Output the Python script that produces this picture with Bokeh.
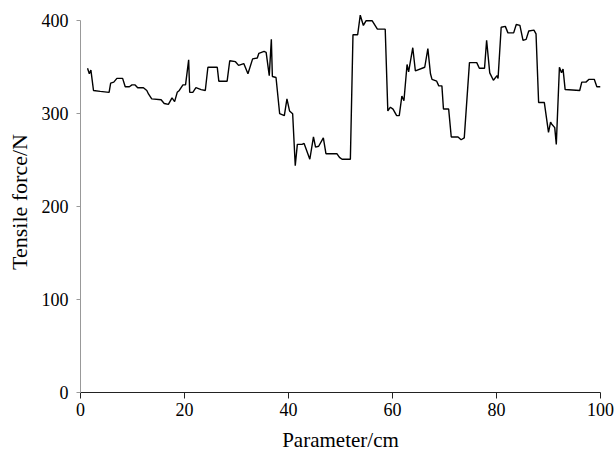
from bokeh.plotting import figure
from bokeh.models import FixedTicker, Range1d
from bokeh.embed import file_html
from bokeh.resources import INLINE

x_cm = [1.35, 1.7, 2.0, 2.5, 3.8, 5.5, 5.8, 6.4, 7.0, 8.1,
        8.6, 9.4, 9.9, 10.5, 11.0, 12.1, 12.75, 13.1, 13.7, 15.5,
        16.1, 16.9, 17.6, 18.1, 18.6, 19.0, 19.7, 20.2, 20.8, 21.0,
        21.6, 22.2, 23.2, 24.0, 24.5, 26.3, 26.6, 28.2, 28.7, 29.8,
        30.4, 31.4, 32.2, 33.1, 34.0, 34.3, 35.3, 35.7, 36.3, 36.7,
        36.9, 37.6, 38.3, 39.2, 39.7, 40.2, 40.8, 41.3, 41.7, 42.6,
        43.0, 44.1, 44.8, 45.2, 45.8, 46.7, 47.2, 49.3, 49.8, 50.3,
        51.9, 52.4, 53.3, 53.8, 54.4, 54.9, 56.1, 57.1, 58.6, 59.1,
        59.6, 60.1, 60.8, 61.3, 61.8, 62.2, 62.8, 63.1, 63.9, 64.4,
        66.2, 66.8, 67.3, 67.6, 68.5, 68.9, 69.5, 69.8, 70.8, 71.3,
        72.6, 73.2, 73.8, 74.8, 76.2, 76.7, 77.7, 78.1, 78.7, 79.4,
        80.1, 80.3, 80.9, 81.7, 82.2, 83.3, 83.8, 84.5, 85.1, 85.7,
        86.2, 87.2, 87.6, 88.1, 89.2, 90.0, 90.4, 90.6, 91.2, 91.5,
        92.1, 92.5, 92.8, 93.2, 96.0, 96.4, 97.2, 97.8, 98.8, 99.3,
        100.0]

force_n = [349, 343, 347, 325, 324, 323, 333, 334, 338, 338,
           329, 329, 331, 331, 328, 328, 325, 321, 316, 315,
           311, 310, 317, 313, 323, 325, 331, 331, 358, 323,
           323, 328, 326, 325, 350, 350, 335, 335, 357, 356,
           352, 354, 343, 359, 360, 365, 367, 366, 341, 380,
           340, 339, 300, 298, 316, 303, 300, 244, 267, 267,
           268, 251, 275, 264, 265, 274, 257, 257, 253, 251,
           251, 385, 385, 406, 395, 400, 400, 391, 391, 303,
           307, 305, 298, 298, 319, 314, 353, 345, 371, 346,
           350, 370, 343, 337, 335, 330, 330, 305, 305, 275,
           275, 272, 274, 355, 355, 349, 349, 379, 344, 336,
           341, 338, 393, 394, 387, 387, 396, 395, 379, 380,
           389, 390, 386, 312, 312, 280, 291, 289, 285, 267,
           350, 344, 348, 326, 325, 334, 334, 337, 337, 329,
           329]

x_ticks = [0, 20, 40, 60, 80, 100]
y_ticks = [0, 100, 200, 300, 400]
x_title = "Parameter/cm"
y_title = "Tensile force/N"

FONT = "Liberation Serif"

p = figure(width=615, height=460, output_backend="svg", toolbar_location=None,
           x_range=Range1d(0, 100), y_range=Range1d(0, 410),
           min_border_left=80, min_border_right=15, min_border_top=11,
           min_border_bottom=68)

p.line(x_cm, force_n, line_color="black", line_width=1.4)

p.outline_line_color = None
p.xgrid.visible = False
p.ygrid.visible = False
p.background_fill_color = "white"
p.border_fill_color = "white"

xa = p.xaxis[0]
xa.ticker = FixedTicker(ticks=x_ticks)
xa.axis_line_color = "#222222"
xa.major_tick_line_color = "#222222"
xa.major_tick_out = 6
xa.major_tick_in = 0
xa.minor_tick_line_color = None
xa.major_label_text_font = FONT
xa.major_label_text_font_size = "18px"
xa.major_label_text_color = "black"
xa.major_label_standoff = 4
xa.axis_label = x_title
xa.axis_label_text_font = FONT
xa.axis_label_text_font_size = "21px"
xa.axis_label_text_font_style = "normal"
xa.axis_label_text_color = "black"
xa.axis_label_standoff = 9

ya = p.yaxis[0]
ya.ticker = FixedTicker(ticks=y_ticks)
ya.bounds = (0, 400)
ya.axis_line_color = "#999999"
ya.major_tick_line_color = "#999999"
ya.major_tick_out = 4
ya.major_tick_in = 0
ya.minor_tick_line_color = None
ya.major_label_text_font = FONT
ya.major_label_text_font_size = "18px"
ya.major_label_text_color = "black"
ya.major_label_standoff = 8
ya.axis_label = y_title
ya.axis_label_text_font = FONT
ya.axis_label_text_font_size = "22px"
ya.axis_label_text_font_style = "normal"
ya.axis_label_text_color = "black"
ya.axis_label_standoff = 7

open("out.html", "w").write(file_html(p, INLINE))
